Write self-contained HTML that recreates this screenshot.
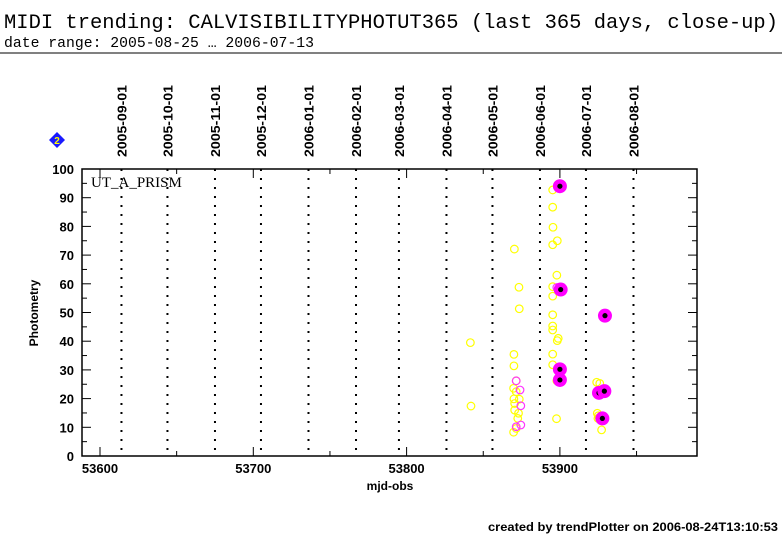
<!DOCTYPE html>
<html><head><meta charset="utf-8"><style>
body{margin:0;background:#fff;width:782px;height:542px;overflow:hidden;}
svg{display:block;font-family:"Liberation Sans",sans-serif;}
</style></head><body>
<svg id="chart" width="782" height="542" viewBox="0 0 782 542">
<text x="4" y="28" font-family="Liberation Mono,monospace" font-size="20" textLength="774" lengthAdjust="spacingAndGlyphs">MIDI trending: CALVISIBILITYPHOTUT365 (last 365 days, close-up)</text>
<text x="4" y="47" font-family="Liberation Mono,monospace" font-size="15" textLength="310" lengthAdjust="spacingAndGlyphs">date range: 2005-08-25 … 2006-07-13</text>
<line x1="0" y1="53" x2="782" y2="53" stroke="#000" stroke-width="1"/>
<g><polygon points="57,132 65,140 57,148 49,140" fill="#1a1aff"/><text x="57" y="144" font-size="10" font-weight="bold" fill="#ff0" text-anchor="middle">2</text></g>
<text x="488" y="531" font-size="12" font-weight="bold" textLength="290" lengthAdjust="spacingAndGlyphs">created by trendPlotter on 2006-08-24T13:10:53</text>
<text x="91" y="187" font-family="Liberation Serif,serif" font-size="15">UT_A_PRISM</text>
<text transform="translate(38,313) rotate(-90)" font-size="12" font-weight="bold" text-anchor="middle">Photometry</text>
<text x="390" y="490" font-size="12" font-weight="bold" text-anchor="middle">mjd-obs</text>
<g id="g"></g>
</svg>
<script>
const monthLabels=["2005-09-01","2005-10-01","2005-11-01","2005-12-01","2006-01-01","2006-02-01","2006-03-01","2006-04-01","2006-05-01","2006-06-01","2006-07-01","2006-08-01"];
const monthMjd=[53614,53644,53675,53705,53736,53767,53795,53826,53856,53887,53917,53948];
const xTicks=[53600,53700,53800,53900];
const yTicks=[0,10,20,30,40,50,60,70,80,90,100];
const openMjd=[53870.3,53873.3,53873.5,53841.6,53842,53870,53870,53871.5,53869.8,53871.5,53870,53873.5,53870.5,53870.5,53873,53872.5,53869.8,53871.5,53895.3,53895.3,53895.5,53898.3,53895.3,53898,53895.3,53895.3,53895.3,53895.3,53895.3,53898.9,53898.3,53895.3,53895.3,53898,53897.8,53924,53926,53924.4,53924.8,53926,53927.2,53925];
const openVal=[72.1,58.8,51.3,39.5,17.4,35.4,31.4,26.2,23.6,22.4,19.9,19.8,18.3,16.0,14.9,13.1,8.3,9.6,92.7,86.7,79.7,75,73.6,63,59,55.7,49.2,45.3,43.9,41,40.2,35.5,31.8,26.2,13,25.7,25.3,14.9,13.1,12.8,9.1,14];
const openMagMjd=[53871.5,53874,53874.5,53874.5,53871.5,53898];
const openMagVal=[26.2,23,17.5,10.8,10.2,58.7];
const fillMjd=[53900,53900.5,53929.4,53900,53900,53925.5,53929,53927.7];
const fillVal=[94,58,48.9,30.2,26.5,22,22.6,13.1];
const L=82,R=697,T=169,B=456;
const X=m=>100+(m-53600)*1.533;
const Y=v=>B-v*(B-T)/100;
const NS='http://www.w3.org/2000/svg';
const g=document.getElementById('g');
function mk(t,a){const e=document.createElementNS(NS,t);for(const k in a)e.setAttribute(k,a[k]);g.appendChild(e);return e;}
monthMjd.forEach((m,i)=>{
 const l=mk('line',{x1:X(m),y1:T,x2:X(m),y2:B,stroke:'#000','stroke-width':2,'stroke-dasharray':'2,7'});
 
 
 const t=mk('text',{transform:`translate(${X(m)+5},157) rotate(-90)`,'font-size':13,'font-weight':'bold',textLength:72,lengthAdjust:'spacingAndGlyphs'});
 t.textContent=monthLabels[i];
 
 
});
const f=mk('rect',{x:L,y:T,width:R-L,height:B-T,fill:'none',stroke:'#000','stroke-width':1.5});


for(let m=53600;m<=53950;m+=50){const big=m%100===0;const h=big?9:5;
 mk('line',{x1:X(m),y1:B,x2:X(m),y2:B-h,stroke:'#000'});mk('line',{x1:X(m),y1:T,x2:X(m),y2:T+h,stroke:'#000'});}
xTicks.forEach(m=>{const t=mk('text',{x:X(m),y:B+17,'font-size':13,'font-weight':'bold','text-anchor':'middle'});t.textContent=m;
 
 });
for(let v=0;v<=100;v+=5){const h=v%10===0?9:5;mk('line',{x1:L,y1:Y(v),x2:L+h,y2:Y(v),stroke:'#000'});mk('line',{x1:R,y1:Y(v),x2:R-h,y2:Y(v),stroke:'#000'});}
yTicks.forEach(v=>{const t=mk('text',{x:L-8,y:Y(v)+5,'font-size':13,'font-weight':'bold','text-anchor':'end'});t.textContent=v;
 
 });
openMjd.forEach((m,i)=>{const c=mk('circle',{cx:X(m),cy:Y(openVal[i]),r:3.8,fill:'none',stroke:'#ffff00','stroke-width':1.2});
 
 });
openMagMjd.forEach((m,i)=>{const c=mk('circle',{cx:X(m),cy:Y(openMagVal[i]),r:3.8,fill:'none',stroke:'#ff33ff','stroke-width':1.2});
 
 });
fillMjd.forEach((m,i)=>{const c=mk('circle',{cx:X(m),cy:Y(fillVal[i]),r:7,fill:'#ff00ff'});
 
 
 mk('circle',{cx:X(m),cy:Y(fillVal[i]),r:2.6,fill:'#000'});});
</script>
</body></html>
